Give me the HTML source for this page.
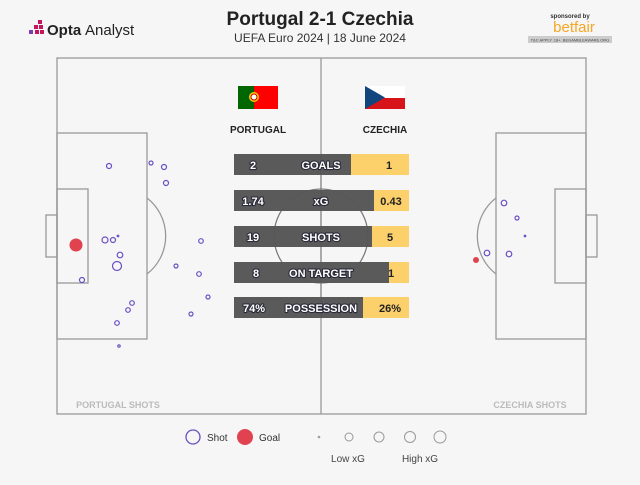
<!DOCTYPE html><html><head><meta charset="utf-8"><style>
body{margin:0;width:640px;height:480px;background:#f6f6f6;font-family:"Liberation Sans",sans-serif;overflow:hidden}
.bt text{paint-order:stroke;stroke:#2a2a3a;stroke-width:2.2px;stroke-linejoin:round}
</style></head><body>
<svg width="640" height="480" xmlns="http://www.w3.org/2000/svg" font-family="Liberation Sans, sans-serif">
<rect width="640" height="480" fill="#f6f6f6"/>
<g fill="#c2185b"><rect x="38" y="20" width="4" height="4"/><rect x="34" y="25" width="4" height="4"/><rect x="39" y="25" width="4" height="4"/><rect x="29" y="30" width="4" height="4" fill="#7b3fb0"/><rect x="35" y="30" width="4" height="4"/><rect x="40" y="30" width="4" height="4"/></g>
<text x="47" y="35" font-size="15" font-weight="bold" fill="#222">Opta</text><text x="85" y="35" font-size="15" fill="#222">Analyst</text>
<text x="320" y="25" text-anchor="middle" font-size="19" font-weight="bold" fill="#222">Portugal 2-1 Czechia</text>
<text x="320" y="42" text-anchor="middle" font-size="12" fill="#333">UEFA Euro 2024 | 18 June 2024</text>
<text x="570" y="18" text-anchor="middle" font-size="6" font-weight="bold" fill="#333">sponsored by</text>
<text x="574" y="32" text-anchor="middle" font-size="15" fill="#f5a623">betfair</text>
<rect x="528" y="36" width="84" height="7" fill="#ccc"/>
<text x="570" y="41.5" text-anchor="middle" font-size="4" fill="#444">T&amp;C APPLY. 18+. BEGAMBLEAWARE.ORG</text>
<g fill="none" stroke="#999" stroke-width="1.3">
<rect x="57" y="58" width="529" height="356"/>
<line x1="321" y1="58" x2="321" y2="414"/>
<circle cx="321" cy="236" r="47"/>
<rect x="57" y="133" width="90" height="206"/><rect x="57" y="189" width="31" height="94"/><rect x="46" y="215" width="11" height="42"/>
<path d="M147 198 A48 48 0 0 1 147 274"/>
<rect x="496" y="133" width="90" height="206"/><rect x="555" y="189" width="31" height="94"/><rect x="586" y="215" width="11" height="42"/>
<path d="M496 198 A48 48 0 0 0 496 274"/>
</g>
<text x="118" y="408" text-anchor="middle" font-size="9" font-weight="bold" fill="#bbb">PORTUGAL SHOTS</text>
<text x="530" y="408" text-anchor="middle" font-size="9" font-weight="bold" fill="#bbb">CZECHIA SHOTS</text>
<rect x="238" y="86" width="16" height="23" fill="#006600"/><rect x="254" y="86" width="24" height="23" fill="#ff0000"/><circle cx="254" cy="97" r="5" fill="#ffcc00"/><circle cx="254" cy="97" r="3" fill="#fff" stroke="#c00"/>
<rect x="365" y="86" width="40" height="12" fill="#fff"/><rect x="365" y="98" width="40" height="11" fill="#d7141a"/><path d="M365 86 L385 97.5 L365 109Z" fill="#11457e"/>
<text x="258" y="133" text-anchor="middle" font-size="10" font-weight="bold" fill="#222">PORTUGAL</text>
<text x="385" y="133" text-anchor="middle" font-size="10" font-weight="bold" fill="#222">CZECHIA</text>
<rect x="234" y="154" width="175" height="21" fill="#5a5a5a"/><rect x="351" y="154" width="58" height="21" fill="#fcd06a"/>
<rect x="234" y="190" width="175" height="21" fill="#5a5a5a"/><rect x="374" y="190" width="35" height="21" fill="#fcd06a"/>
<rect x="234" y="226" width="175" height="21" fill="#5a5a5a"/><rect x="372" y="226" width="37" height="21" fill="#fcd06a"/>
<rect x="234" y="262" width="175" height="21" fill="#5a5a5a"/><rect x="389" y="262" width="20" height="21" fill="#fcd06a"/>
<rect x="234" y="297" width="175" height="21" fill="#5a5a5a"/><rect x="363" y="297" width="46" height="21" fill="#fcd06a"/>
<g fill="none" stroke="#555" stroke-width="0.8" opacity="0.6"><circle cx="321" cy="236" r="47"/><line x1="321" y1="154" x2="321" y2="318"/></g>
<g class="bt" font-size="11" font-weight="bold" fill="#fff">
<text x="253" y="169" text-anchor="middle">2</text><text x="321" y="169" text-anchor="middle">GOALS</text>
<text x="253" y="205" text-anchor="middle">1.74</text><text x="321" y="205" text-anchor="middle">xG</text>
<text x="253" y="241" text-anchor="middle">19</text><text x="321" y="241" text-anchor="middle">SHOTS</text>
<text x="256" y="277" text-anchor="middle">8</text><text x="321" y="277" text-anchor="middle">ON TARGET</text>
<text x="254" y="312" text-anchor="middle">74%</text><text x="321" y="312" text-anchor="middle">POSSESSION</text>
</g>
<g font-size="11" font-weight="bold" fill="#222">
<text x="389" y="169" text-anchor="middle">1</text><text x="391" y="205" text-anchor="middle">0.43</text><text x="390" y="241" text-anchor="middle">5</text><text x="391" y="277" text-anchor="middle">1</text><text x="390" y="312" text-anchor="middle">26%</text>
</g>
<g fill="none" stroke="#6a4fc2" stroke-width="1.2">
<circle cx="109" cy="166" r="2.5"/><circle cx="151" cy="163" r="2"/><circle cx="164" cy="167" r="2.5"/><circle cx="166" cy="183" r="2.5"/>
<circle cx="105" cy="240" r="3"/><circle cx="113" cy="240" r="2.5"/><circle cx="118" cy="236" r="0.8"/><circle cx="120" cy="255" r="2.8"/><circle cx="117" cy="266" r="4.5"/><circle cx="82" cy="280" r="2.5"/>
<circle cx="132" cy="303" r="2.3"/><circle cx="128" cy="310" r="2.3"/><circle cx="117" cy="323" r="2.3"/><circle cx="119" cy="346" r="1.2"/>
<circle cx="201" cy="241" r="2.3"/><circle cx="176" cy="266" r="2"/><circle cx="199" cy="274" r="2.3"/><circle cx="208" cy="297" r="2"/><circle cx="191" cy="314" r="2"/>
<circle cx="504" cy="203" r="2.8"/><circle cx="517" cy="218" r="2"/><circle cx="525" cy="236" r="0.8"/><circle cx="487" cy="253" r="2.8"/><circle cx="509" cy="254" r="2.8"/>
</g>
<circle cx="76" cy="245" r="6.5" fill="#e0434f"/><circle cx="476" cy="260" r="3" fill="#e0434f"/>
<circle cx="193" cy="437" r="7" fill="none" stroke="#6a4fc2" stroke-width="1.3"/><text x="207" y="441" font-size="10" fill="#333">Shot</text>
<circle cx="245" cy="437" r="8" fill="#e0434f"/><text x="259" y="441" font-size="10" fill="#333">Goal</text>
<g fill="none" stroke="#999"><circle cx="319" cy="437" r="0.8"/><circle cx="349" cy="437" r="4"/><circle cx="379" cy="437" r="5"/><circle cx="410" cy="437" r="5.5"/><circle cx="440" cy="437" r="6"/></g>
<text x="348" y="462" text-anchor="middle" font-size="10" fill="#444">Low xG</text>
<text x="420" y="462" text-anchor="middle" font-size="10" fill="#444">High xG</text>
</svg>
</body></html>
